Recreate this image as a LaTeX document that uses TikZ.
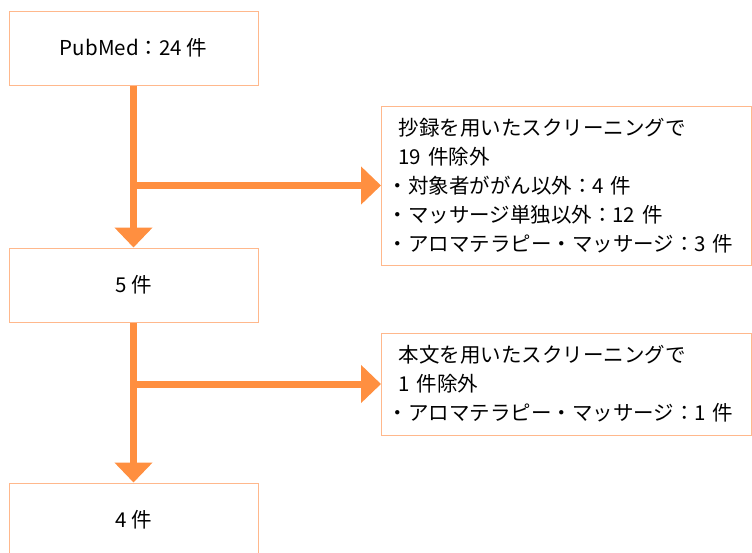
\documentclass[tikz,border=0pt]{standalone}
\usepackage{fontspec}
\setmainfont{Noto Sans CJK JP}
\usetikzlibrary{arrows.meta}
\usetikzlibrary{positioning}
\definecolor{flowline}{RGB}{255,143,64}
\definecolor{flowedge}{RGB}{255,184,140}

\begin{document}
\begin{tikzpicture}[x=1pt, y=-1pt, font=\fontsize{20.5pt}{29pt}\selectfont]
    \tikzstyle{stage}=[draw=flowedge, line width=1pt, rectangle, minimum width=249pt, minimum height=74pt, inner sep=0pt]
    \tikzstyle{excl}=[draw=flowedge, line width=1pt, rectangle, anchor=west, minimum width=370pt, text width=358pt, inner xsep=6pt, inner ysep=0pt, align=left]
    \tikzstyle{flow}=[draw=flowline, line width=7pt, -{Triangle[width=37pt, length=20pt]}]

    \useasboundingbox (0,0) rectangle (752,552);

    \node[stage] (pubmed) at (133.5,48) {PubMed：24~件};
    \node[stage] (abs) at (133.5,285) {5~件};
    \node[stage] (full) at (133.5,520) {4~件};

    \node[excl, minimum height=159pt] (exabs) at (381,185.5) {\hspace*{11pt}抄録を用いたスクリーニングで\\\hspace*{11pt}19~件除外\\・対象者ががん以外：4~件\\・マッサージ単独以外：12~件\\・アロマテラピー・マッサージ：3~件};
    \node[excl, minimum height=102pt] (exfull) at (381,384) {\hspace*{11pt}本文を用いたスクリーニングで\\\hspace*{11pt}1~件除外\\・アロマテラピー・マッサージ：1~件};

    % main flow and exclusions
    \path[flow] (pubmed.south) -- (abs.north);
    \path[flow] (abs.south) -- (full.north);
    \path[flow] (pubmed.south |- exabs.west) -- (exabs.west);
    \path[flow] (abs.south |- exfull.west) -- (exfull.west);
\end{tikzpicture}
\end{document}
